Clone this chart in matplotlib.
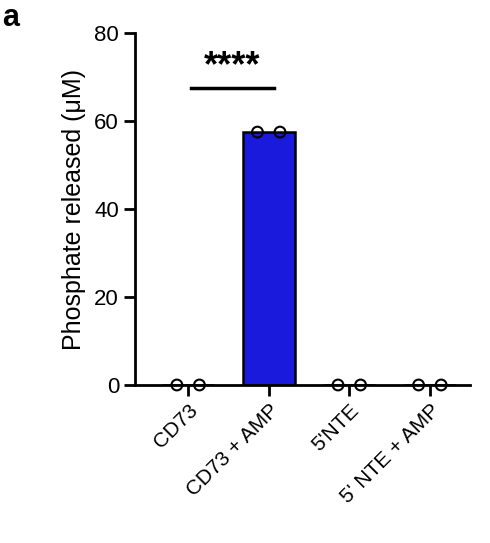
import matplotlib
matplotlib.use("Agg")
import matplotlib.pyplot as plt

categories = ["CD73", "CD73 + AMP", "5'NTE", "5' NTE + AMP"]
means = [0, 57.5, 0, 0]
points = [[0, 0], [57.5, 57.5], [0, 0], [0, 0]]

plt.rcParams['font.family'] = ['Liberation Sans', 'DejaVu Sans']
fig = plt.figure(figsize=(4.9, 5.43), dpi=100)
ax = fig.add_axes([0.2755, 0.291, 0.684, 0.648])
x = list(range(len(categories)))
ax.bar(x, means, width=0.65, color='#1a1adc', edgecolor='black', linewidth=1.8, zorder=2)
for i, pts in enumerate(points):
    ax.scatter([i - 0.14, i + 0.14], pts, s=60, facecolors='none', edgecolors='black', linewidths=1.5, zorder=3, clip_on=False)
ax.plot([0.03, 1.06], [67.5, 67.5], color='black', lw=2.5)
ax.text(0.55, 68.3, '****', ha='center', va='bottom', fontsize=26, fontweight='bold')
ax.set_xlim(-0.66, 3.5)
ax.set_ylim(0, 80)
ax.set_yticks([0, 20, 40, 60, 80])
ax.set_xticks(x)
ax.set_xticklabels(categories, rotation=45, ha='right', rotation_mode='anchor', fontsize=15)
ax.tick_params(axis='y', labelsize=16, width=2, length=8)
ax.tick_params(axis='x', width=2, length=8)
ax.set_ylabel('Phosphate released (\u03bcM)', fontsize=18, labelpad=6)
for s in ['top', 'right']:
    ax.spines[s].set_visible(False)
for s in ['left', 'bottom']:
    ax.spines[s].set_linewidth(2)
fig.text(0.005, 0.995, 'a', fontsize=22, fontweight='bold', va='top')
fig.savefig('out.png', dpi=100)
